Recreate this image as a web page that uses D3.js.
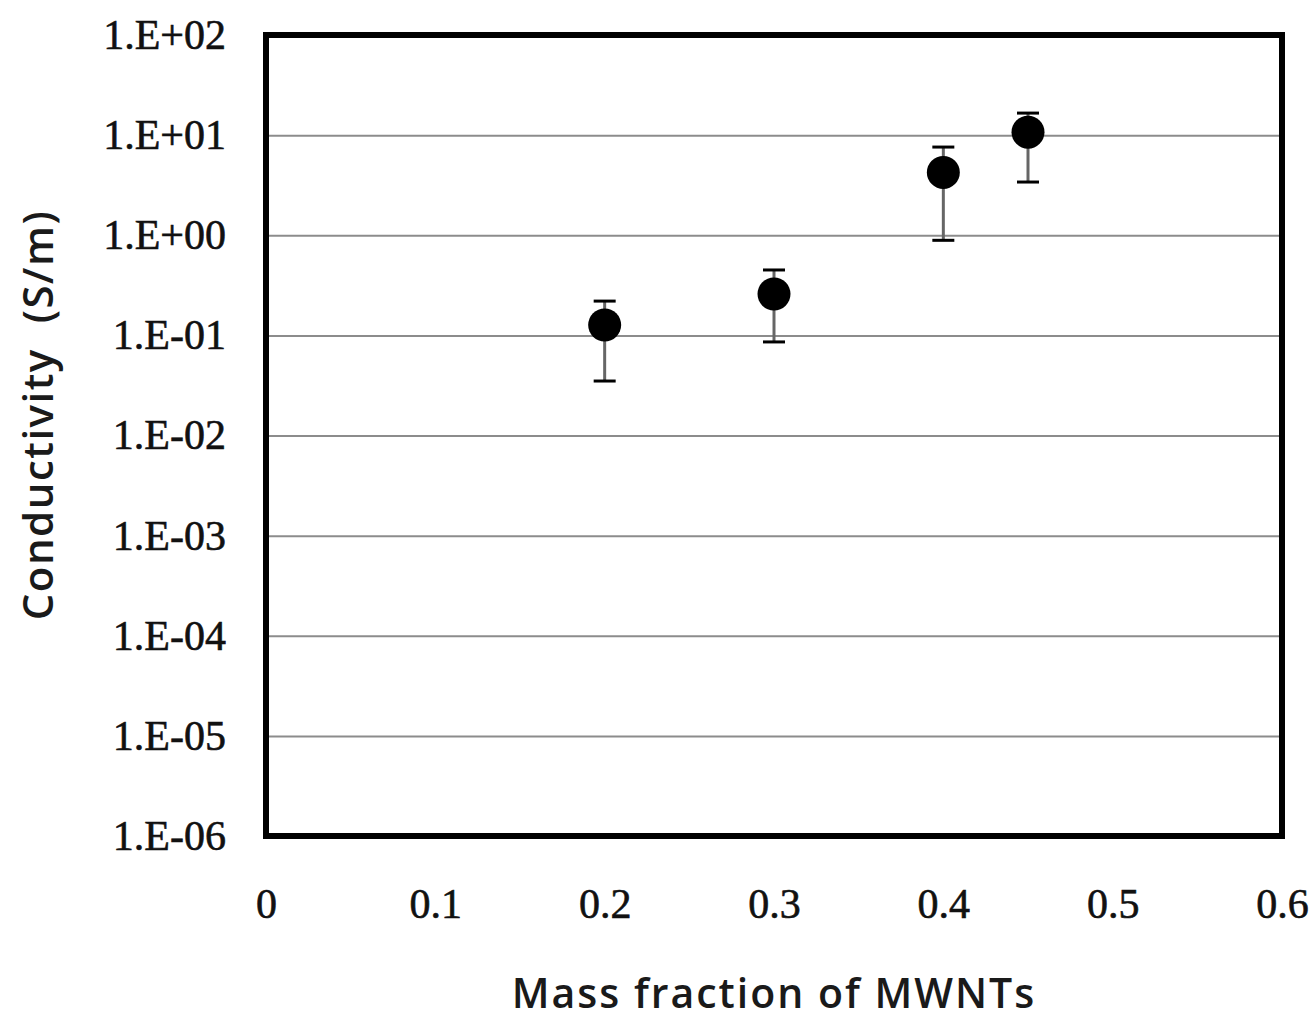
<!DOCTYPE html>
<html>
<head>
<meta charset="utf-8">
<script src="https://cdn.jsdelivr.net/npm/d3@7"></script>
<style>
  body { margin: 0; background: #fff; }
</style>
</head>
<body>
<div id="main"></div>
<script>
// Data
const massFraction = [0.2, 0.3, 0.4, 0.45];
const conductivity = [0.127, 0.259, 4.24, 10.7];
const errUpper = [0.22, 0.45, 7.6, 16.6];   // top of error bar
const errLower = [0.035, 0.086, 0.89, 3.4]; // bottom of error bar

const xTicks = [0, 0.1, 0.2, 0.3, 0.4, 0.5, 0.6];
const yTicks = [1e-6, 1e-5, 1e-4, 1e-3, 1e-2, 1e-1, 1e0, 1e1, 1e2];

const points = massFraction.map((m, i) => [m, conductivity[i], errUpper[i], errLower[i]]);

// Dimensions
const w = 1314;
const h = 1020;
const plotL = 266, plotR = 1282, plotT = 35, plotB = 836;

const svg = d3.select('#main')
    .append('svg')
    .attr('width', w)
    .attr('height', h)
    .style('background-color', '#fff');

// Scales
const xScale = d3.scaleLinear()
    .domain([0, 0.6])
    .range([plotL, plotR]);

const yScale = d3.scaleLog()
    .domain([1e-6, 1e2])
    .range([plotB, plotT]);

// label format like 1.E+02
function expLabel(v) {
    const e = Math.round(Math.log10(v));
    const sign = e < 0 ? '-' : '+';
    return '1.E' + sign + String(Math.abs(e)).padStart(2, '0');
}

// Gridlines
const grid = svg.append('g')
    .attr('transform', `translate(${plotL}, 0)`)
    .call(d3.axisLeft(yScale).tickValues(yTicks).tickSize(-(plotR - plotL)).tickFormat(''));
grid.select('.domain').remove();
grid.selectAll('line').attr('stroke', '#8c8c8c').attr('stroke-width', 2);

// Y axis labels
const yAxis = svg.append('g')
    .attr('transform', `translate(${plotL - 40}, 0)`)
    .call(d3.axisLeft(yScale).tickValues(yTicks).tickSize(0).tickPadding(0).tickFormat(expLabel));
yAxis.select('.domain').remove();
yAxis.selectAll('text')
    .style('font-family', '"Liberation Serif", serif')
    .style('font-size', '42px')
    .attr('fill', '#111')
    .attr('stroke', '#111')
    .attr('stroke-width', 0.6);

// X axis labels
const xAxis = svg.append('g')
    .attr('transform', `translate(0, ${plotB + 52})`)
    .call(d3.axisBottom(xScale).tickValues(xTicks).tickSize(0).tickPadding(0).tickFormat(d3.format('')));
xAxis.select('.domain').remove();
xAxis.selectAll('text')
    .style('font-family', '"Liberation Serif", serif')
    .style('font-size', '42px')
    .attr('fill', '#111')
    .attr('stroke', '#111')
    .attr('stroke-width', 0.6);

// Frame
svg.append('rect')
    .attr('x', plotL)
    .attr('y', plotT)
    .attr('width', plotR - plotL)
    .attr('height', plotB - plotT)
    .attr('fill', 'none')
    .attr('stroke', '#000')
    .attr('stroke-width', 6);

// Error bars
const bars = svg.append('g');
bars.selectAll('line.stem')
    .data(points)
    .enter()
    .append('line')
    .attr('class', 'stem')
    .attr('x1', d => xScale(d[0]))
    .attr('x2', d => xScale(d[0]))
    .attr('y1', d => yScale(d[2]))
    .attr('y2', d => yScale(d[3]))
    .attr('stroke', '#666')
    .attr('stroke-width', 3);

['2', '3'].forEach(k => {
    bars.selectAll('line.cap' + k)
        .data(points)
        .enter()
        .append('line')
        .attr('class', 'cap' + k)
        .attr('x1', d => xScale(d[0]) - 11)
        .attr('x2', d => xScale(d[0]) + 11)
        .attr('y1', d => yScale(d[+k]))
        .attr('y2', d => yScale(d[+k]))
        .attr('stroke', '#000')
        .attr('stroke-width', 3);
});

// Markers
svg.selectAll('circle')
    .data(points)
    .enter()
    .append('circle')
    .attr('cx', d => xScale(d[0]))
    .attr('cy', d => yScale(d[1]))
    .attr('r', 16.5)
    .attr('fill', '#000');

// Axis titles
svg.append('text')
    .attr('x', 774)
    .attr('y', 1008)
    .attr('text-anchor', 'middle')
    .style('font-family', '"Open Sans", sans-serif')
    .style('font-weight', '600')
    .style('font-size', '41px')
    .style('letter-spacing', '2px')
    .attr('fill', '#1a1a1a')
    .text('Mass fraction of MWNTs');

svg.append('text')
    .attr('transform', 'translate(53, 415) rotate(-90)')
    .attr('text-anchor', 'middle')
    .style('font-family', '"Open Sans", sans-serif')
    .style('font-weight', '600')
    .style('font-size', '42px')
    .style('letter-spacing', '1.5px')
    .attr('fill', '#1a1a1a')
    .text('Conductivity\u00a0\u00a0(S/m)');
</script>
</body>
</html>
